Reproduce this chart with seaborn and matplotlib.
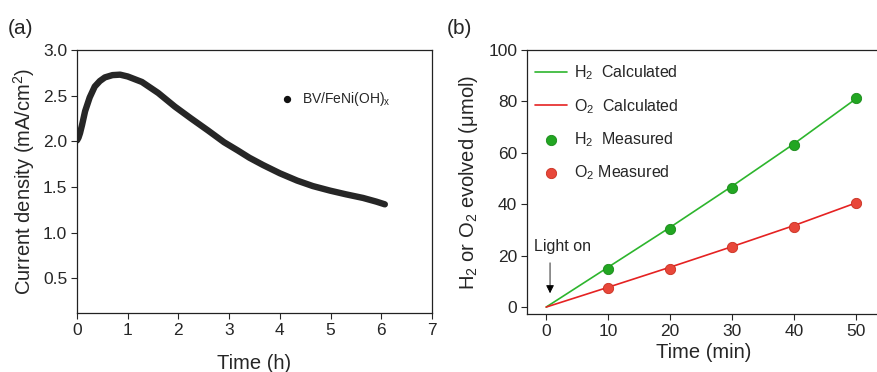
import numpy as np
import pandas as pd
import matplotlib
matplotlib.use("Agg")
import matplotlib.pyplot as plt
import seaborn as sns

sns.set_theme(style="ticks")
plt.rcParams['font.family'] = ['Liberation Sans', 'DejaVu Sans']
plt.rcParams['mathtext.fontset'] = 'custom'
plt.rcParams['mathtext.rm'] = 'Liberation Sans'
plt.rcParams['mathtext.it'] = 'Liberation Sans'

# ---- Panel (a) data: current density vs time ----
time_h = [0.0, 0.03, 0.06, 0.1, 0.16, 0.25, 0.35, 0.45, 0.55, 0.7, 0.85, 1.0,
          1.28, 1.6, 1.93, 2.25, 2.58, 2.9, 3.17, 3.4, 3.67, 4.0, 4.34, 4.65,
          4.99, 5.3, 5.64, 5.9, 6.07]
current = [2.01, 2.04, 2.09, 2.18, 2.33, 2.48, 2.60, 2.66, 2.70, 2.725, 2.73,
           2.71, 2.65, 2.53, 2.38, 2.25, 2.12, 1.99, 1.90, 1.82, 1.74, 1.65,
           1.57, 1.51, 1.46, 1.42, 1.38, 1.34, 1.31]
legend_a = "BV/FeNi(OH)$_\\mathregular{x}$"

# ---- Panel (b) data: gas evolution ----
t_min = [0, 10, 20, 30, 40, 50]
h2_calc = [0, 15.5, 31.0, 47.0, 63.5, 81.0]
o2_calc = [0, 7.7, 15.5, 23.5, 31.7, 40.5]
t_meas = [10, 20, 30, 40, 50]
h2_meas = [15.0, 30.5, 46.5, 63.0, 81.5]
o2_meas = [7.3, 15.0, 23.5, 31.3, 40.5]

W, H = 878, 372
fig = plt.figure(figsize=(W / 100, H / 100), dpi=100)
axa = fig.add_axes([77 / W, 1 - 313 / H, (432 - 77) / W, (313 - 50) / H])
axb = fig.add_axes([527 / W, 1 - 314 / H, (880 - 527) / W, (314 - 50) / H])

tick_fs = 12.5
label_fs = 14.5

# Panel (a)
dfa = pd.DataFrame({"t": time_h, "j": current})
sns.lineplot(data=dfa, x="t", y="j", ax=axa, color="#262626", lw=4.6,
             solid_capstyle="round", solid_joinstyle="round", sort=False)
axa.set_xlim(0, 7)
axa.set_ylim(0.12, 3.0)
axa.set_xticks(range(0, 8))
axa.set_yticks([0.5, 1.0, 1.5, 2.0, 2.5, 3.0])
axa.set_yticklabels(["0.5", "1.0", "1.5", "2.0", "2.5", "3.0"])
axa.set_xlabel("Time (h)", fontsize=label_fs, labelpad=12)
axa.set_ylabel("Current density (mA/cm$^\\mathregular{2}$)", fontsize=label_fs, labelpad=4)
axa.tick_params(labelsize=tick_fs, direction="out", length=4, width=0.8, pad=3)
for s in axa.spines.values():
    s.set_linewidth(0.9)
    s.set_color("#222222")
axa.scatter([4.14], [2.46], s=18, color="#111111", zorder=5)
axa.text(4.44, 2.46, legend_a, fontsize=10, va="center", ha="left")
fig.text(8 / W, 1 - 28 / H, "(a)", fontsize=15, va="center", ha="left")

# Panel (b)
sns.lineplot(x=t_min, y=h2_calc, ax=axb, color="#2db52d", lw=1.2, label="H$_\\mathregular{2}$  Calculated")
sns.lineplot(x=t_min, y=o2_calc, ax=axb, color="#e52222", lw=1.2, label="O$_\\mathregular{2}$  Calculated")
sns.scatterplot(x=t_meas, y=h2_meas, ax=axb, color="#22a622", s=55, edgecolor="#1a8a1a",
                linewidth=0.6, zorder=5, label="H$_\\mathregular{2}$  Measured")
sns.scatterplot(x=t_meas, y=o2_meas, ax=axb, color="#e8473a", s=55, edgecolor="#c93020",
                linewidth=0.6, zorder=5, label="O$_\\mathregular{2}$ Measured")
axb.set_xlim(-3.1, 53.9)
axb.set_ylim(-2.7, 100)
axb.set_xticks([0, 10, 20, 30, 40, 50])
axb.set_yticks([0, 20, 40, 60, 80, 100])
axb.set_xlabel("Time (min)", fontsize=label_fs, labelpad=3)
axb.set_ylabel("H$_\\mathregular{2}$ or O$_\\mathregular{2}$ evolved ($\\mathregular{\\mu}$mol)",
               fontsize=label_fs, labelpad=6)
axb.tick_params(labelsize=tick_fs, direction="out", length=4, width=0.8, pad=3)
axb.spines["right"].set_visible(False)
for s in axb.spines.values():
    s.set_linewidth(0.9)
    s.set_color("#222222")
leg = axb.legend(loc="upper left", frameon=False, fontsize=11.5, labelspacing=0.9,
                 handlelength=2.0, handletextpad=0.45, borderaxespad=0.0,
                 bbox_to_anchor=(0.005, 0.972))
axb.annotate("", xy=(0.62, 4.3), xytext=(0.62, 18.3),
             arrowprops=dict(arrowstyle="-|>", color="black", lw=0.6, mutation_scale=12))
axb.text(-1.97, 23.4, "Light on", fontsize=11.5, ha="left", va="center")
fig.text(447 / W, 1 - 28 / H, "(b)", fontsize=15, va="center", ha="left")

fig.savefig("out.png", dpi=100)
